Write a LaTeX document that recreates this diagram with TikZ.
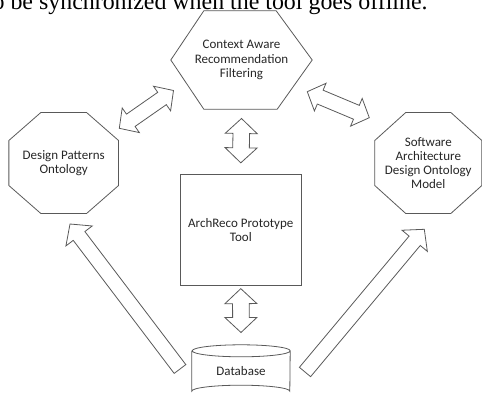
\documentclass[tikz,border=0pt]{standalone}
\usepackage{fontspec}
\setmainfont{Carlito}
\newfontfamily\capfont{Liberation Serif}
\usetikzlibrary{calc}
\newcommand\blockdbl[5]{% start, end, head length, head half width, shaft half width
  \draw[ln] (#1) -- ($(#1)!#3!(#2)!#4!90:(#2)$) -- ($(#1)!#3!(#2)!#5!90:(#2)$)
    -- ($(#2)!#3!(#1)!#5!-90:(#1)$) -- ($(#2)!#3!(#1)!#4!-90:(#1)$) -- (#2)
    -- ($(#2)!#3!(#1)!#4!90:(#1)$) -- ($(#2)!#3!(#1)!#5!90:(#1)$)
    -- ($(#1)!#3!(#2)!#5!-90:(#2)$) -- ($(#1)!#3!(#2)!#4!-90:(#2)$) -- cycle;}
\newcommand\blocksgl[5]{% tail, tip, head length, head half width, shaft half width
  \draw[ln] ($(#1)!#5!90:(#2)$) -- ($(#2)!#3!(#1)!#5!-90:(#1)$)
    -- ($(#2)!#3!(#1)!#4!-90:(#1)$) -- (#2) -- ($(#2)!#3!(#1)!#4!90:(#1)$)
    -- ($(#2)!#3!(#1)!#5!90:(#1)$) -- ($(#1)!#5!-90:(#2)$) -- cycle;}
\newcommand\octa[3]{% node, chamfer x, chamfer y
  \draw[ln] ([xshift=#2]#1.north west) -- ([xshift=-#2]#1.north east)
    -- ([yshift=-#3]#1.north east) -- ([yshift=#3]#1.south east)
    -- ([xshift=-#2]#1.south east) -- ([xshift=#2]#1.south west)
    -- ([yshift=#3]#1.south west) -- ([yshift=-#3]#1.north west) -- cycle;}
\begin{document}
\begin{tikzpicture}[x=1pt,y=-1pt,
  ln/.style={draw=black!65, line width=0.8pt, line join=miter},
  lbl/.style={font=\fontsize{13}{14.2}\selectfont, text=black!85, align=center, inner sep=0pt}]
\useasboundingbox (0,0) rectangle (482,398);
% caption fragment
\node[anchor=base west, inner sep=0pt, font=\capfont\fontsize{23.9}{24}\selectfont] (cap) at (-7.6,9.5)
  {o be synchronized when the tool goes offline.};
% shapes
\node[lbl, minimum width=141pt, minimum height=98pt] (hex) at (241.5,60)
  {Context Aware\\Recommendation\\Filtering};
\draw[ln] (hex.west) -- ([xshift=33pt]hex.north west) -- ([xshift=-36pt]hex.north east)
  -- (hex.east) -- ([xshift=-35pt]hex.south east) -- ([xshift=33pt]hex.south west) -- cycle;
\node[lbl, minimum width=109.3pt, minimum height=100.6pt] (dpo) at (63.7,163)
  {Design Patterns\\Ontology};
\octa{dpo}{32pt}{28pt}
\node[lbl, minimum width=106.7pt, minimum height=100.6pt] (sado) at (428.3,163)
  {Software\\Architecture\\Design Ontology\\Model};
\octa{sado}{31pt}{28pt}
\node[lbl, draw=black!65, line width=0.8pt, minimum width=121.7pt, minimum height=111.7pt] (tool)
  at (240.8,229.8) {ArchReco Prototype\\Tool};
\node[lbl, minimum width=98pt, minimum height=52pt] (db) at (241,371) {Database};
\draw[ln] ([yshift=-6pt]db.north west) -- ([yshift=6pt]db.south west)
  arc[start angle=180, end angle=360, x radius=49pt, y radius=-6pt]
  -- ([yshift=-6pt]db.north east)
  arc[start angle=0, end angle=-180, x radius=49pt, y radius=-6pt]
  arc[start angle=180, end angle=0, x radius=49pt, y radius=-6pt];
% arrow end points
\coordinate (a1s) at (119.3,128.3);
\coordinate (a1e) at (173.5,90.5);
\coordinate (a2s) at (307.3,91.7);
\coordinate (a2e) at (369.3,117.7);
\coordinate (a3s) at ([yshift=-9.3pt]hex.south);
\coordinate (a3e) at ([yshift=10.7pt]tool.north);
\coordinate (a4s) at ([yshift=-2.6pt]tool.south);
\coordinate (a4e) at ([yshift=12.3pt]db.north);
\coordinate (lt) at (180,369);
\coordinate (lh) at (70,224);
\coordinate (rt) at (305,372);
\coordinate (rh) at (424.3,229.3);
% block arrows
\blockdbl{a1s}{a1e}{14pt}{15pt}{7.5pt}
\blockdbl{a2s}{a2e}{14pt}{15pt}{7.5pt}
\blockdbl{a3s}{a3e}{15pt}{16pt}{8.3pt}
\blockdbl{a4s}{a4e}{15pt}{16pt}{8.3pt}
\blocksgl{lt}{lh}{15pt}{16.5pt}{7.3pt}
\blocksgl{rt}{rh}{15pt}{16.5pt}{7.3pt}
\end{tikzpicture}
\end{document}
